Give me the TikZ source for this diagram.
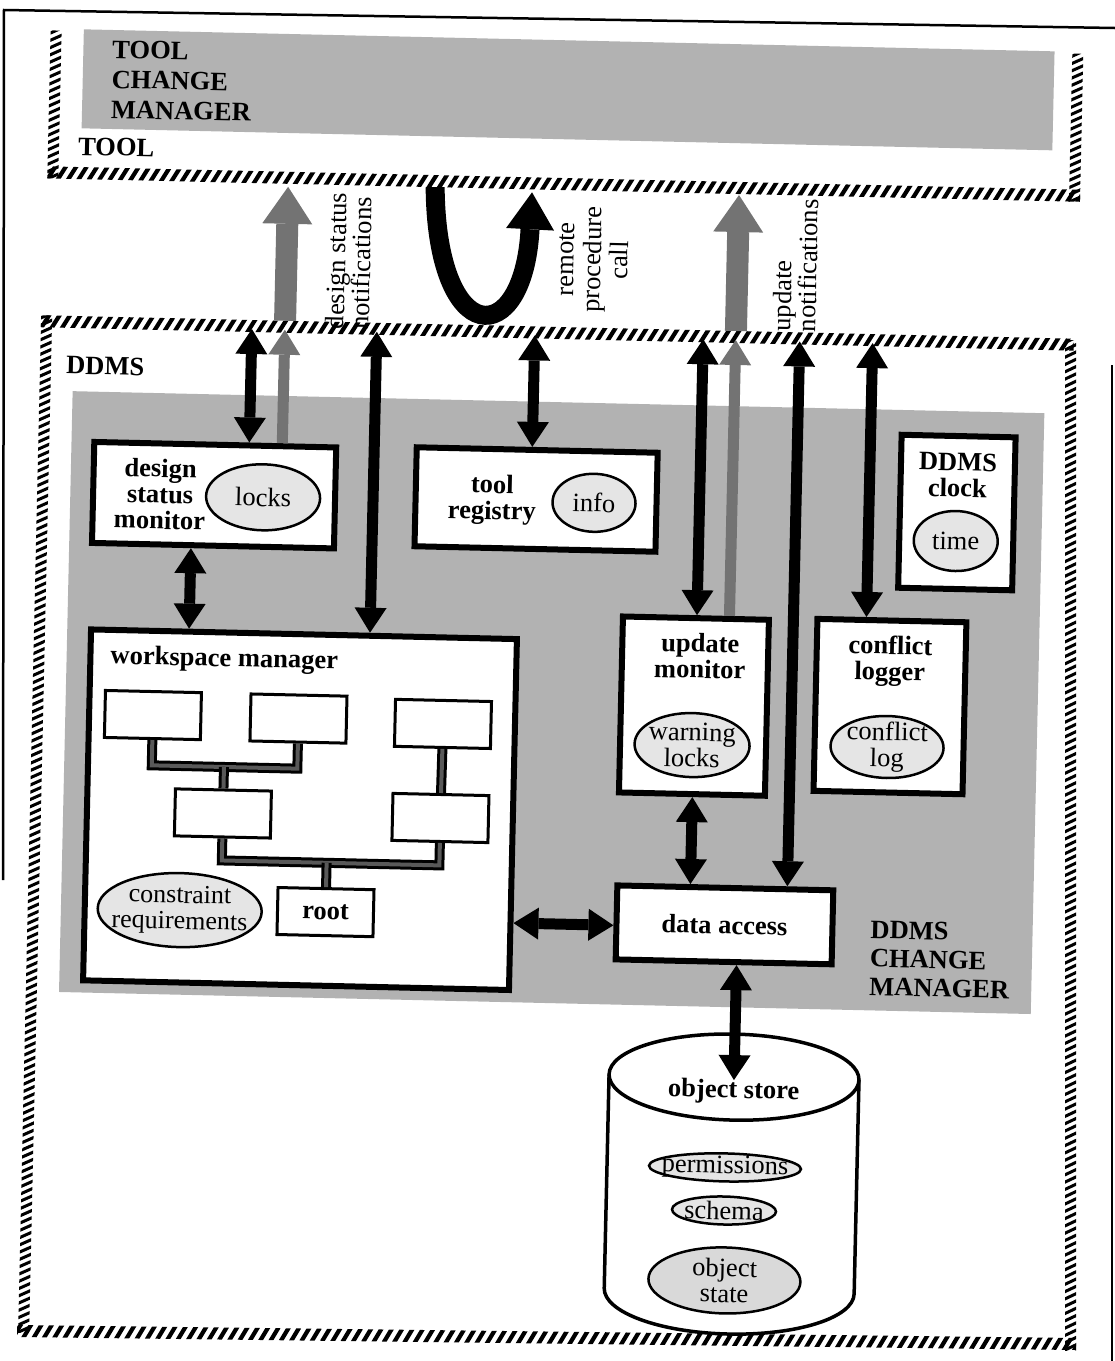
\documentclass[tikz,border=0pt]{standalone}
\usepackage{fontspec}
\setmainfont{Liberation Serif}
\usetikzlibrary{arrows.meta,shapes.geometric}
% hatched band, horizontal: x0 x1 ytop ybot
\newcommand\hatchH[4]{%
  \begin{scope}
    \clip (#1,#3) rectangle (#2,#4);
    \pgfmathtruncatemacro\hatchN{(#2-#1)/10.3+3}%
    \foreach \i in {0,...,\hatchN}{%
      \draw[line width=4.2pt] ({#1+\i*10.3-12},{#4+4}) -- ({#1+\i*10.3},{#3-4});
    }
  \end{scope}}
% hatched band, slanted horizontal: x0 x1 ytop-at-x0 ytop-at-x1 thickness
\newcommand\hatchHs[5]{%
  \begin{scope}
    \clip (#1,#3) -- (#2,#4) -- (#2,{#4+#5}) -- (#1,{#3+#5}) -- cycle;
    \pgfmathtruncatemacro\hatchN{(#2-#1)/10.3+3}%
    \foreach \i in {0,...,\hatchN}{%
      \pgfmathsetmacro\hx{#1+\i*10.3}%
      \pgfmathsetmacro\hy{#3+(\hx-#1)*(#4-#3)/(#2-#1)+#5/2}%
      \draw[line width=4.2pt] ({\hx-9},{\hy+15}) -- ({\hx+9},{\hy-15});
    }
  \end{scope}}
% hatched band, vertical: xl xr ytop ybot
\newcommand\hatchV[4]{%
  \begin{scope}
    \clip (#1,#3) rectangle (#2,#4);
    \pgfmathtruncatemacro\hatchN{(#4-#3)/7.3+3}%
    \foreach \i in {0,...,\hatchN}{%
      \draw[line width=3pt] ({#1-3},{#3+\i*7.3+4}) -- ({#2+3},{#3+\i*7.3-4});
    }
  \end{scope}}
\begin{document}
\begin{tikzpicture}[x=1pt,y=-1pt,
  hs/.tip={Triangle[length=25pt 0 0,width=32pt 0 0,line width=0pt 0 0]},
  hl/.tip={Triangle[length=37pt 0 0,width=50pt 0 0,line width=0pt 0 0]},
  hu/.tip={Triangle[length=37pt 0 0,width=48pt 0 0,line width=0pt 0 0]},
  mbox/.style={draw,line width=6pt,fill=white,inner sep=0pt},
  sbox/.style={draw,line width=3pt,fill=white,inner sep=0pt,minimum width=96pt,minimum height=47pt},
  oval/.style={ellipse,draw,line width=2.5pt,fill=black!10,inner sep=0pt},
  lblb/.style={font=\fontsize{26.5}{26}\selectfont\bfseries,align=center,inner sep=0pt},
  lblr/.style={font=\fontsize{26.5}{25}\selectfont,align=center,inner sep=0pt},
  arrdbl/.style={line width=11pt,hs-hs},
  arrgs/.style={line width=11pt,draw=black!55,-hs},
  arrgb/.style={line width=22pt,draw=black!55,-hl},
  treebar/.style={draw=black,line width=3pt,double=black!65,double distance=4pt},
  grayarea/.style={fill=black!30,inner sep=0pt,anchor=north west}]
\useasboundingbox (0,0) rectangle (1115,1361);
% page frame
\draw[line width=2.5pt] (3,880) -- (4,10) -- (1115,28);
\draw[line width=2pt] (1112,365) -- (1112,1361);
% DDMS right and bottom hatched bands (drawn in page coordinates)
\hatchV{1065}{1076}{340}{1350}
\hatchHs{17}{1076}{1325}{1338}{12}

\begin{scope}[rotate around={-1.3:(557,680)}, transform shape]
% ---------------- TOOL ----------------
\node[grayarea,minimum width=971pt,minimum height=99pt] (tcm) at (69,40) {};
\hatchV{36}{47}{42}{190}
\hatchV{1058}{1069}{42}{190}
\hatchH{36}{1069}{178}{190}
\node[lblb,align=left,anchor=north west,font=\fontsize{26.5}{30}\selectfont\bfseries] (tcmT) at (98,50.5) {TOOL\\CHANGE\\MANAGER};
\node[lblb,anchor=base west] (toolT) at (66,166) {TOOL};

% ---------------- DDMS ----------------
\node[grayarea,minimum width=972pt,minimum height=601pt] (dcm) at (66,402) {};
\hatchH{33}{1066}{327}{339}
\hatchV{33}{44}{327}{1345}
\node[lblb,anchor=base west] (ddmsT) at (59,385) {DDMS};
\node[lblb,align=left,anchor=north west,font=\fontsize{26.5}{28.5}\selectfont\bfseries] (dcmT) at (876,913.5) {DDMS\\CHANGE\\MANAGER};

% ---------------- coordinates ----------------
\coordinate (b1) at (244,336);
\coordinate (b2) at (277,336);
\coordinate (b3) at (369,336);
\coordinate (b4) at (527,336);
\coordinate (b5) at (695.5,336);
\coordinate (b6) at (728,336);
\coordinate (b7) at (792,336);
\coordinate (b8) at (865,336);
\coordinate (g1b) at (277,327);
\coordinate (g1t) at (277,193);
\coordinate (g2b) at (728,327);
\coordinate (g2t) at (728,191);
\coordinate (uL) at (424,190);
\coordinate (uR) at (521,193);
\coordinate (cyltip) at (743,1076);

% ---------------- arrows between TOOL and DDMS ----------------
\draw[arrgb] (g1b) -- (g1t);
\draw[arrgb] (g2b) -- (g2t);
\draw[line width=19pt,-hu] (uL) .. controls (429,352) and (516,352) .. (uR);
\node[lblr,rotate=90,align=left] (dsnT) at (339.5,266) {design status\\notifications};
\node[lblr,rotate=90,font=\fontsize{26.5}{27}\selectfont] (rpcT) at (584,259) {remote\\procedure\\call};
\node[lblr,rotate=90,align=left] (unT) at (786,260) {update\\notifications};

% ---------------- object store ----------------
\draw[line width=3.5pt,fill=white] (618,1073) -- (618,1287)
  arc[start angle=180,end angle=360,x radius=125pt,y radius=43pt] -- (868,1073)
  arc[start angle=0,end angle=180,x radius=125pt,y radius=43pt] -- cycle;
\draw[line width=3.5pt] (618,1073) arc[start angle=180,end angle=360,x radius=125pt,y radius=43pt];
\node[lblb] (ostT) at (743,1087.5) {object store};
\node[oval,minimum width=152pt,minimum height=28pt] (permE) at (736,1163.5) {};
\node[lblr] (permT) at (permE) {permissions};
\node[oval,minimum width=104pt,minimum height=28pt] (schE) at (736,1206.6) {};
\node[lblr] (schT) at (schE) {schema};
\node[oval,fill=black!15,minimum width=152pt,minimum height=66pt] (osE) at (738,1276.5) {};
\node[lblr,font=\fontsize{26.5}{26}\selectfont] (osT) at (osE) {object\\state};

% ---------------- boxes ----------------
\node[mbox,minimum width=242pt,minimum height=101pt] (dsm) at (210,503) {};
\node[lblb] (dsmT) at (156,503) {design\\status\\monitor};
\node[oval,minimum width=114pt,minimum height=66pt] (locksE) at (259,504) {};
\node[lblr] (locksT) at (locksE) {locks};

\node[mbox,minimum width=241pt,minimum height=99pt] (treg) at (532,500) {};
\node[lblb] (tregT) at (488,501.5) {tool\\registry};
\node[oval,minimum width=83pt,minimum height=58pt] (infoE) at (590,502) {};
\node[lblr] (infoT) at (infoE) {info};

\node[mbox,minimum width=114pt,minimum height=153pt] (clock) at (953,503.5) {};
\node[lblb] (clockT) at (953,466) {DDMS\\clock};
\node[oval,minimum width=84pt,minimum height=60pt] (timeE) at (952.5,532) {};
\node[lblr] (timeT) at (timeE) {time};

\node[mbox,minimum width=426pt,minimum height=351pt] (wsm) at (303,815.5) {};
\node[lblb,anchor=base west] (wsmT) at (110,674) {workspace manager};
\node[sbox] (wA) at (153.8,724.2) {};
\node[sbox] (wB) at (299.4,724.4) {};
\node[sbox] (wC) at (444,726.5) {};
\node[sbox] (wD) at (226,821) {};
\node[sbox] (wE) at (443.6,820.6) {};
\node[sbox] (root) at (330.8,917.3) {};
\node[lblb] (rootT) at (root) {root};
\draw[treebar] (wA.south) -- (153.8,774.5) -- (299.4,774.5) -- (wB.south);
\draw[treebar] (226,774.5) -- (wD.north);
\draw[treebar] (wC.south) -- (wE.north);
\draw[treebar] (wD.south) -- (226,868) -- (443.6,868) -- (wE.south);
\draw[treebar] (330.8,868) -- (root.north);
\node[oval,minimum width=164pt,minimum height=74pt] (conE) at (185,918.6) {};
\node[lblr,font=\fontsize{26}{26}\selectfont] (conT) at (conE) {constraint\\requirements};

\node[mbox,minimum width=146pt,minimum height=176pt] (upd) at (694.5,703) {};
\node[lblb] (updT) at (699.5,652.8) {update\\monitor};
\node[oval,minimum width=115pt,minimum height=64pt] (warnE) at (693.5,742) {};
\node[lblr,font=\fontsize{26.5}{26}\selectfont] (warnT) at (warnE) {warning\\locks};

\node[mbox,minimum width=149pt,minimum height=172pt] (conf) at (890.5,699) {};
\node[lblb] (confT) at (889.6,653.4) {conflict\\logger};
\node[oval,minimum width=113pt,minimum height=62pt] (clogE) at (888.5,739.5) {};
\node[lblr,font=\fontsize{26.5}{26}\selectfont] (clogT) at (clogE) {conflict\\log};

\node[mbox,minimum width=216pt,minimum height=74pt] (da) at (730,921) {};
\node[lblb] (daT) at (da) {data access};

% ---------------- arrows inside DDMS ----------------
\draw[arrdbl] (b1) -- ([xshift=34pt]dsm.north);
\draw[arrgs] ([xshift=67pt]dsm.north) -- (b2);
\draw[arrdbl] (b3) -- ([xshift=66pt]wsm.north);
\draw[arrdbl] (b4) -- ([xshift=-5pt]treg.north);
\draw[arrdbl] (b5) -- ([xshift=1pt]upd.north);
\draw[arrgs] ([xshift=33.5pt]upd.north) -- (b6);
\draw[arrdbl] (b7) -- ([xshift=62pt]da.north);
\draw[arrdbl] (b8) -- ([xshift=-25.5pt]conf.north);
\draw[arrdbl] ([xshift=-22pt]dsm.south) -- ([xshift=-115pt]wsm.north);
\draw[arrdbl] ([xshift=0.5pt]upd.south) -- ([xshift=-35pt]da.north);
\draw[arrdbl] ([yshift=-108.5pt]wsm.east) -- ([yshift=-3pt]da.west);
\draw[arrdbl] ([xshift=13pt]da.south) -- (cyltip);
\end{scope}
\end{tikzpicture}
\end{document}
